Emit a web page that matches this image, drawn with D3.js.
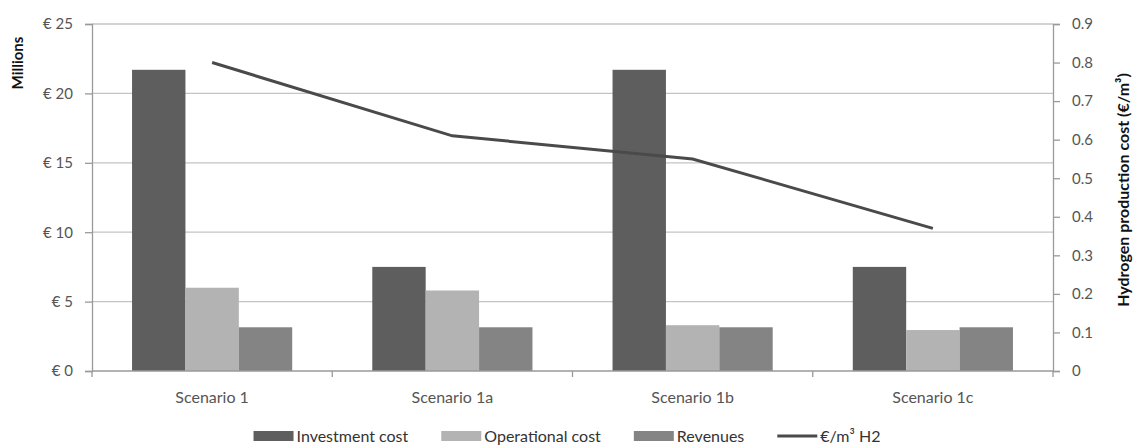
<!DOCTYPE html>
<html>
<head>
<meta charset="utf-8">
<script src="https://cdn.jsdelivr.net/npm/d3@7"></script>
<style>
  html, body { margin: 0; padding: 0; background: #fff; }
  svg { display: block; font-family: Lato, "Open Sans", sans-serif; }
</style>
</head>
<body>
<svg id="chart" width="1138" height="448"></svg>
<script>
// Scenario costs (millions of euro) and hydrogen production cost (€/m³)
const scenarios = ["Scenario 1", "Scenario 1a", "Scenario 1b", "Scenario 1c"];
const seriesNames = ["Investment cost", "Operational cost", "Revenues"];
const investmentCost = [21.7, 7.5, 21.7, 7.5];
const operationalCost = [6.0, 5.8, 3.3, 2.95];
const revenues = [3.15, 3.15, 3.15, 3.15];
const h2Cost = [0.80, 0.61, 0.55, 0.37];
const lineName = "€/m³ H2";
const leftTicks = [0, 5, 10, 15, 20, 25];
const leftTickLabels = ["€ 0", "€ 5", "€ 10", "€ 15", "€ 20", "€ 25"];
const rightTicks = [0, 0.1, 0.2, 0.3, 0.4, 0.5, 0.6, 0.7, 0.8, 0.9];
const rightTickLabels = ["0", "0.1", "0.2", "0.3", "0.4", "0.5", "0.6", "0.7", "0.8", "0.9"];

const seriesValues = [investmentCost, operationalCost, revenues];
const colors = ["#5e5e5e", "#b3b3b3", "#848484"];
const lineColor = "#4a4a4a";

const svg = d3.select("#chart");
const plot = { left: 92, right: 1053, top: 24, bottom: 371 };

const x = d3.scaleBand().domain(scenarios).range([plot.left, plot.right]).paddingInner(0).paddingOuter(0);
const xs = d3.scaleBand().domain(seriesNames).range([0, x.bandwidth()]).paddingInner(0).paddingOuter(0.75);
const yL = d3.scaleLinear().domain([0, 25]).range([plot.bottom, plot.top]);
const yR = d3.scaleLinear().domain([0, 0.9]).range([plot.bottom, plot.top]);

// horizontal gridlines at the left-axis ticks
svg.append("g")
  .selectAll("line")
  .data(leftTicks.filter(d => d > 0))
  .join("line")
  .attr("x1", plot.left).attr("x2", plot.right)
  .attr("y1", d => yL(d)).attr("y2", d => yL(d))
  .attr("stroke", "#c4c4c4").attr("stroke-width", 1.3);

// bars
const groups = svg.append("g")
  .selectAll("g")
  .data(scenarios)
  .join("g")
  .attr("transform", d => `translate(${x(d)},0)`);

groups.selectAll("rect")
  .data((d, i) => seriesNames.map((s, k) => ({ s, k, v: seriesValues[k][i] })))
  .join("rect")
  .attr("x", d => xs(d.s))
  .attr("width", xs.bandwidth())
  .attr("y", d => yL(d.v))
  .attr("height", d => yL(0) - yL(d.v))
  .attr("fill", d => colors[d.k]);

// axes
const axisColor = "#9a9a9a";
const tickColor = "#555";
const styleAxis = g => {
  g.selectAll(".domain").attr("stroke", axisColor).attr("stroke-width", 1.3);
  g.selectAll(".tick line").attr("stroke", axisColor).attr("stroke-width", 1.3);
  g.selectAll("text").attr("fill", tickColor).attr("font-family", "Lato, sans-serif");
};

svg.append("g")
  .attr("transform", `translate(${plot.left},0)`)
  .call(d3.axisLeft(yL).tickValues(leftTicks).tickFormat((d, i) => leftTickLabels[i]).tickSizeOuter(0).tickSize(7).tickPadding(12))
  .call(styleAxis)
  .call(g => g.selectAll("text").attr("font-size", 15));

svg.append("g")
  .attr("transform", `translate(${plot.right},0)`)
  .call(d3.axisRight(yR).tickValues(rightTicks).tickFormat((d, i) => rightTickLabels[i]).tickSizeOuter(0).tickSize(7).tickPadding(12))
  .call(styleAxis)
  .call(g => g.selectAll("text").attr("font-size", 15));

// bottom axis: ticks on the category boundaries, labels at the centers
const xAxis = svg.append("g").attr("transform", `translate(0,${plot.bottom})`);
xAxis.append("line")
  .attr("x1", plot.left).attr("x2", plot.right)
  .attr("stroke", axisColor).attr("stroke-width", 1.3);
xAxis.selectAll(".bound")
  .data(scenarios.concat([null]))
  .join("line")
  .attr("class", "bound")
  .attr("x1", (d, i) => i < scenarios.length ? x(d) : plot.right)
  .attr("x2", (d, i) => i < scenarios.length ? x(d) : plot.right)
  .attr("y1", 0).attr("y2", 6)
  .attr("stroke", axisColor).attr("stroke-width", 1.3);
xAxis.selectAll(".cat")
  .data(scenarios)
  .join("text")
  .attr("class", "cat")
  .attr("x", d => x(d) + x.bandwidth() / 2)
  .attr("y", 32)
  .attr("text-anchor", "middle")
  .attr("font-size", 16)
  .attr("fill", tickColor)
  .text(d => d);

// hydrogen production cost line
const line = d3.line()
  .x((d, i) => x(scenarios[i]) + x.bandwidth() / 2)
  .y(d => yR(d));
svg.append("path")
  .datum(h2Cost)
  .attr("d", line)
  .attr("fill", "none")
  .attr("stroke", lineColor)
  .attr("stroke-width", 3);

// axis titles
svg.append("text")
  .attr("transform", "translate(23,63) rotate(-90)")
  .attr("text-anchor", "middle")
  .attr("font-size", 15)
  .attr("font-weight", "bold")
  .attr("fill", "#111")
  .text("Millions");

svg.append("text")
  .attr("transform", "translate(1129,190) rotate(-90)")
  .attr("text-anchor", "middle")
  .attr("font-size", 16)
  .attr("font-weight", "bold")
  .attr("fill", "#111")
  .text("Hydrogen production cost (€/m³)");

// legend
const legendItems = seriesNames.map((s, k) => ({ name: s, type: "rect", color: colors[k] }))
  .concat([{ name: lineName, type: "line", color: lineColor }]);
const legend = svg.append("g");
const sw = 40, gap = 33, legendY = 436;
let cursor = 0;
legendItems.forEach(item => {
  const g = legend.append("g").attr("transform", `translate(${cursor},0)`);
  if (item.type === "rect") {
    g.append("rect").attr("x", 0).attr("y", legendY - 5).attr("width", sw).attr("height", 10).attr("fill", item.color);
  } else {
    g.append("line").attr("x1", 0).attr("x2", sw).attr("y1", legendY).attr("y2", legendY)
      .attr("stroke", item.color).attr("stroke-width", 3);
  }
  const t = g.append("text")
    .attr("x", sw + 3).attr("y", legendY).attr("dy", "0.35em")
    .attr("font-size", 16).attr("fill", "#333")
    .text(item.name);
  cursor += sw + 3 + t.node().getComputedTextLength() + gap;
});
const legendWidth = cursor - gap;
legend.attr("transform", `translate(${567 - legendWidth / 2},0)`);
</script>
</body>
</html>
